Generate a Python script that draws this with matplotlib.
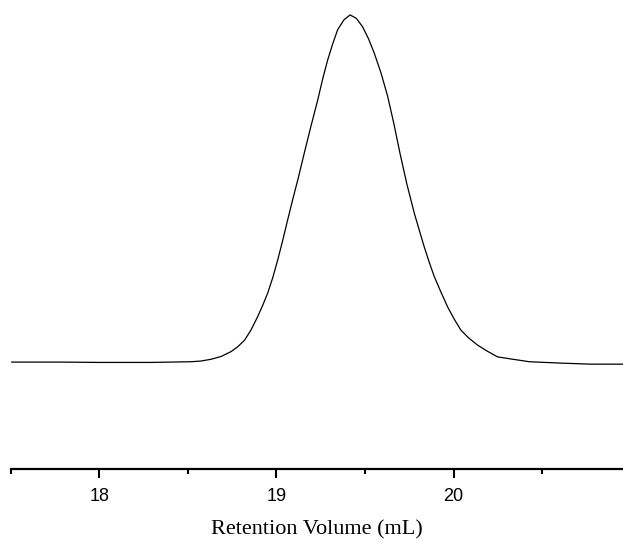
import matplotlib
matplotlib.use("Agg")
import matplotlib.pyplot as plt
from matplotlib.ticker import MultipleLocator

# GPC trace (retention volume in mL, normalised RI signal)
volume = [17.506, 17.784, 18.0, 18.292, 18.517, 18.574, 18.630, 18.687, 18.743,
          18.781, 18.820, 18.857, 18.894, 18.922, 18.950, 18.979, 19.007, 19.035,
          19.063, 19.091, 19.120, 19.157, 19.195, 19.233, 19.261, 19.289, 19.317,
          19.345, 19.381, 19.416, 19.451, 19.486, 19.519, 19.552, 19.590, 19.628,
          19.663, 19.697, 19.736, 19.778, 19.806, 19.834, 19.862, 19.891, 19.928,
          19.966, 20.003, 20.041, 20.086, 20.135, 20.188, 20.248, 20.323, 20.427,
          20.606, 20.775, 20.956]
signal = [0.000, 0.000, -0.001, -0.001, 0.001, 0.003, 0.008, 0.016, 0.030,
          0.044, 0.063, 0.093, 0.131, 0.163, 0.198, 0.243, 0.294, 0.350,
          0.409, 0.467, 0.524, 0.602, 0.680, 0.755, 0.816, 0.870, 0.916,
          0.957, 0.986, 1.000, 0.990, 0.966, 0.932, 0.890, 0.833, 0.765,
          0.686, 0.602, 0.513, 0.429, 0.380, 0.332, 0.288, 0.246, 0.202,
          0.159, 0.124, 0.092, 0.069, 0.049, 0.032, 0.015, 0.009, 0.001,
          -0.003, -0.006, -0.006]

major_ticks = [18, 19, 20]

fig = plt.figure(figsize=(6.23, 5.41), dpi=100)
ax = fig.add_axes([10.7 / 623, 72 / 541, 1 - 10.7 / 623, 469 / 541])

ax.plot(volume, signal, color="black", lw=0.9)

ax.set_xlim(17.5, 20.956)
ax.set_ylim(-0.308, 1.043)

# only the bottom axis is shown
for side in ["left", "right", "top"]:
    ax.spines[side].set_visible(False)
ax.spines["bottom"].set_linewidth(1.6)
ax.set_yticks([])

ax.set_xticks(major_ticks)
ax.xaxis.set_minor_locator(MultipleLocator(0.5))
ax.tick_params(axis="x", which="major", length=6.5, width=1.5, pad=7,
               labelsize=13)
ax.tick_params(axis="x", which="minor", length=3.6, width=1.5)
for lab in ax.get_xticklabels():
    lab.set_fontfamily("Liberation Sans")

ax.set_xlabel("Retention Volume (mL)", fontfamily="Liberation Serif",
              fontsize=16, labelpad=11)

fig.savefig("out.png", dpi=100)
